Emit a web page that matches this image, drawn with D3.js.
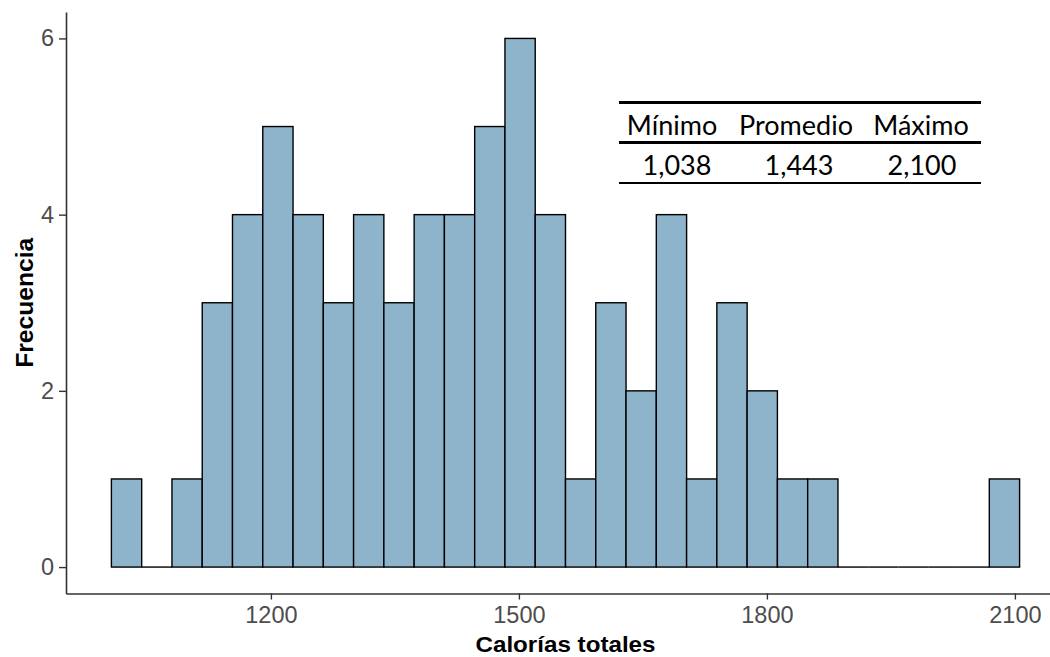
<!DOCTYPE html>
<html>
<head>
<meta charset="utf-8">
<script src="https://cdn.jsdelivr.net/npm/d3@7"></script>
<style>
  body { margin: 0; background: #fff; }
  svg { display: block; }
</style>
</head>
<body>
<svg id="vis" width="1050" height="657"></svg>
<script>
// histogram counts (30 bins)
var counts = [1, 0, 1, 3, 4, 5, 4, 3, 4, 3, 4, 4, 5, 6, 4, 1, 3, 2, 4, 1, 3, 2, 1, 1, 0, 0, 0, 0, 0, 1];
var dataMin = 1038, dataMax = 2100;
var xTicks = [1200, 1500, 1800, 2100];
var yTicks = [0, 2, 4, 6];
var tableHeaders = ["Mínimo", "Promedio", "Máximo"];
var tableValues = ["1,038", "1,443", "2,100"];

// ggplot style binning: width = range / (bins - 1), boundary at width / 2
var binWidth = (dataMax - dataMin) / (counts.length - 1);
var boundary = binWidth / 2;
var origin = boundary + Math.floor((dataMin - boundary) / binWidth) * binWidth;
var bins = counts.map(function (c, i) {
    return { x0: origin + i * binWidth, x1: origin + (i + 1) * binWidth, n: c };
});

var margin = { left: 66, right: 1065, top: 12, bottom: 593.5 };
var xStart = bins[0].x0, xEnd = bins[bins.length - 1].x1;
var padX = (xEnd - xStart) * 0.05;
var yMax = d3.max(counts);

var x = d3.scaleLinear().domain([xStart - padX, xEnd + padX]).range([margin.left, margin.right]);
var y = d3.scaleLinear().domain([-yMax * 0.05, yMax * 1.05]).range([margin.bottom, margin.top]);

var svg = d3.select("#vis");

// bars
var bars = svg.append("g");
bars.selectAll("rect")
    .data(bins)
    .enter().append("rect")
    .attr("x", function (d) { return x(d.x0); })
    .attr("y", function (d) { return y(d.n); })
    .attr("width", function (d) { return x(d.x1) - x(d.x0); })
    .attr("height", function (d) { return y(0) - y(d.n); })
    .attr("fill", "#8DB4CB")
    .attr("stroke", "#000")
    .attr("stroke-width", 1.4);

// empty bins still show their outline as a flat line at zero
bars.selectAll("line")
    .data(bins.filter(function (d) { return d.n === 0; }))
    .enter().append("line")
    .attr("x1", function (d) { return x(d.x0); })
    .attr("x2", function (d) { return x(d.x1); })
    .attr("y1", y(0))
    .attr("y2", y(0))
    .attr("stroke", "#000")
    .attr("stroke-width", 1.4);

// axes
var gx = svg.append("g")
    .attr("transform", "translate(0," + margin.bottom + ")")
    .call(d3.axisBottom(x).tickValues(xTicks).tickFormat(d3.format("d"))
        .tickSize(6).tickSizeOuter(0).tickPadding(7));
var gy = svg.append("g")
    .attr("transform", "translate(" + margin.left + ",0)")
    .call(d3.axisLeft(y).tickValues(yTicks).tickFormat(d3.format("d"))
        .tickSize(7).tickSizeOuter(0).tickPadding(5));

[gx, gy].forEach(function (g) {
    g.select(".domain").attr("stroke", "#333").attr("stroke-width", 1.6);
    g.selectAll(".tick line").attr("stroke", "#333").attr("stroke-width", 1.4);
    g.selectAll(".tick text")
        .attr("fill", "#4D4D4D")
        .style("font-family", "Liberation Sans, Arial, sans-serif")
        .style("font-size", "23.5px");
});

// axis titles
svg.append("text")
    .attr("x", (margin.left + margin.right) / 2)
    .attr("y", 652)
    .attr("text-anchor", "middle")
    .style("font-family", "Liberation Sans, Arial, sans-serif")
    .style("font-weight", "bold")
    .style("font-size", "21.5px")
    .attr("textLength", 180)
    .attr("lengthAdjust", "spacingAndGlyphs")
    .text("Calorías totales");

svg.append("text")
    .attr("transform", "translate(33," + (margin.top + margin.bottom) / 2 + ") rotate(-90)")
    .attr("text-anchor", "middle")
    .style("font-family", "Liberation Sans, Arial, sans-serif")
    .style("font-weight", "bold")
    .style("font-size", "23.5px")
    .attr("textLength", 130)
    .attr("lengthAdjust", "spacingAndGlyphs")
    .text("Frecuencia");

// summary table
var table = svg.append("g").attr("class", "table");
var colCenters = [672, 796, 921];
var valCenters = [677, 799, 922];

table.append("line").attr("x1", 619).attr("x2", 981).attr("y1", 102.5).attr("y2", 102.5)
    .attr("stroke", "#000").attr("stroke-width", 3);
table.append("line").attr("x1", 619).attr("x2", 981).attr("y1", 142.5).attr("y2", 142.5)
    .attr("stroke", "#000").attr("stroke-width", 3);
table.append("line").attr("x1", 619).attr("x2", 981).attr("y1", 183).attr("y2", 183)
    .attr("stroke", "#000").attr("stroke-width", 2);

table.selectAll(".hdr")
    .data(tableHeaders)
    .enter().append("text")
    .attr("class", "hdr")
    .attr("x", function (d, i) { return colCenters[i]; })
    .attr("y", 135)
    .attr("text-anchor", "middle")
    .style("font-family", "Lato, sans-serif")
    .style("font-size", "27px")
    .text(function (d) { return d; });

table.selectAll(".val")
    .data(tableValues)
    .enter().append("text")
    .attr("class", "val")
    .attr("x", function (d, i) { return valCenters[i]; })
    .attr("y", 175)
    .attr("text-anchor", "middle")
    .style("font-family", "Lato, sans-serif")
    .style("font-size", "27px")
    .text(function (d) { return d; });
</script>
</body>
</html>
